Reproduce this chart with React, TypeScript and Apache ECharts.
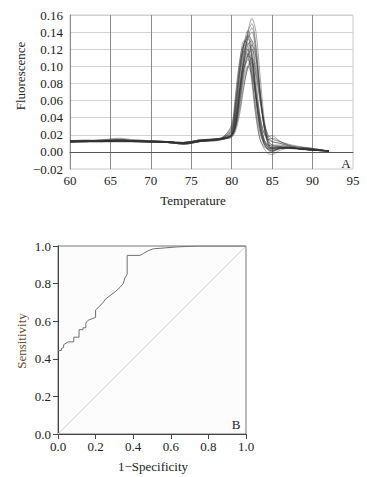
import React, { useEffect, useRef } from "react";
import * as echarts from "echarts";

// ---- Panel A: melt curves ----
const meltTemps = [60, 62, 64, 66, 68, 70, 72, 73, 74, 75, 76, 78, 79, 80, 80.5, 81, 81.5, 82, 82.5, 83, 83.5, 84, 84.5, 85, 86, 87, 88, 90, 92];
const curveA = [0.013,0.013,0.014,0.015,0.013,0.013,0.012,0.011,0.011,0.012,0.014,0.015,0.016,0.019,0.03,0.06,0.10,0.14,0.156,0.14,0.09,0.04,0.012,0.006,0.006,0.005,0.004,0.003,0.001];
const curveB = [0.012,0.012,0.013,0.013,0.013,0.012,0.012,0.011,0.010,0.011,0.013,0.014,0.016,0.022,0.045,0.085,0.125,0.142,0.12,0.07,0.03,0.012,0.008,0.007,0.006,0.005,0.004,0.002,0.001];
const curveC = [0.012,0.012,0.012,0.013,0.012,0.012,0.011,0.010,0.009,0.010,0.012,0.014,0.015,0.02,0.04,0.075,0.105,0.12,0.105,0.065,0.03,0.01,0.002,0.0,0.004,0.005,0.004,0.003,0.001];
const curveD = [0.011,0.012,0.012,0.012,0.012,0.012,0.011,0.010,0.010,0.011,0.013,0.015,0.018,0.03,0.065,0.105,0.13,0.125,0.09,0.045,0.015,0.004,-0.002,-0.003,0.002,0.004,0.003,0.002,0.001];
const curveE = [0.012,0.013,0.013,0.014,0.013,0.012,0.012,0.011,0.011,0.012,0.013,0.014,0.015,0.018,0.03,0.055,0.085,0.10,0.09,0.065,0.04,0.022,0.018,0.019,0.012,0.008,0.006,0.004,0.001];
const curveF = [0.013,0.014,0.013,0.014,0.014,0.013,0.012,0.012,0.011,0.012,0.014,0.015,0.016,0.019,0.032,0.07,0.11,0.135,0.145,0.12,0.07,0.03,0.01,0.004,0.005,0.005,0.004,0.003,0.001];
const curveG = [0.012,0.012,0.012,0.013,0.012,0.012,0.011,0.010,0.010,0.011,0.012,0.014,0.015,0.017,0.025,0.045,0.075,0.10,0.11,0.095,0.06,0.03,0.015,0.012,0.01,0.007,0.005,0.003,0.001];
const curveH = [0.012,0.013,0.013,0.013,0.013,0.012,0.012,0.011,0.010,0.011,0.013,0.014,0.017,0.025,0.055,0.095,0.125,0.135,0.11,0.06,0.025,0.008,0.003,0.002,0.004,0.004,0.004,0.002,0.001];
const curveI = [0.013,0.013,0.014,0.016,0.014,0.013,0.012,0.011,0.010,0.011,0.013,0.015,0.016,0.02,0.035,0.065,0.095,0.115,0.125,0.11,0.07,0.035,0.015,0.008,0.008,0.006,0.005,0.003,0.001];
const curveJ = [0.012,0.012,0.012,0.012,0.012,0.011,0.011,0.010,0.009,0.010,0.012,0.013,0.015,0.021,0.045,0.08,0.105,0.115,0.1,0.065,0.035,0.015,0.008,0.004,0.005,0.005,0.004,0.002,0.001];
const curveK = [0.012,0.012,0.013,0.013,0.013,0.012,0.012,0.011,0.011,0.012,0.013,0.014,0.015,0.018,0.028,0.05,0.078,0.098,0.105,0.09,0.06,0.035,0.02,0.015,0.012,0.009,0.007,0.004,0.001];
const curveL = [0.013,0.013,0.013,0.014,0.013,0.013,0.012,0.011,0.011,0.012,0.014,0.015,0.016,0.02,0.035,0.075,0.115,0.14,0.15,0.125,0.075,0.03,0.008,0.002,0.004,0.005,0.004,0.003,0.001];
const curveM = [0.012,0.012,0.013,0.013,0.012,0.012,0.011,0.011,0.010,0.011,0.013,0.014,0.016,0.023,0.05,0.09,0.118,0.128,0.11,0.07,0.035,0.014,0.006,0.004,0.005,0.005,0.004,0.002,0.001];
const curveN = [0.011,0.012,0.012,0.012,0.012,0.011,0.011,0.010,0.009,0.010,0.012,0.014,0.017,0.028,0.06,0.098,0.118,0.112,0.085,0.05,0.022,0.01,0.006,0.005,0.005,0.005,0.004,0.002,0.001];
const curveO = [0.012,0.013,0.013,0.014,0.013,0.012,0.012,0.011,0.010,0.011,0.013,0.015,0.017,0.024,0.052,0.095,0.126,0.136,0.13,0.085,0.04,0.015,0.005,0.003,0.004,0.005,0.004,0.002,0.001];
const curveP = [0.013,0.013,0.013,0.014,0.013,0.012,0.012,0.011,0.010,0.011,0.013,0.015,0.016,0.019,0.03,0.06,0.09,0.112,0.12,0.1,0.065,0.035,0.018,0.012,0.01,0.007,0.005,0.003,0.001];
const curveQ = [0.012,0.012,0.012,0.013,0.012,0.012,0.011,0.010,0.009,0.010,0.012,0.013,0.015,0.02,0.04,0.072,0.098,0.108,0.095,0.06,0.03,0.012,0.004,0.001,0.004,0.005,0.004,0.002,0.001];
const curveR = [0.012,0.013,0.013,0.013,0.013,0.012,0.012,0.011,0.011,0.012,0.013,0.014,0.016,0.019,0.033,0.068,0.105,0.125,0.13,0.11,0.068,0.03,0.012,0.008,0.007,0.006,0.004,0.003,0.001];
const curveS = [0.011,0.012,0.012,0.012,0.012,0.011,0.011,0.010,0.010,0.011,0.012,0.014,0.018,0.032,0.07,0.108,0.125,0.118,0.08,0.04,0.015,0.006,0.004,0.004,0.005,0.005,0.004,0.002,0.001];
const curveT = [0.013,0.013,0.014,0.014,0.013,0.013,0.012,0.011,0.011,0.012,0.014,0.015,0.016,0.02,0.034,0.072,0.11,0.132,0.14,0.115,0.07,0.03,0.01,0.005,0.006,0.005,0.004,0.003,0.001];
const curveU = [0.012,0.012,0.013,0.013,0.012,0.012,0.011,0.011,0.010,0.011,0.012,0.014,0.015,0.02,0.038,0.07,0.098,0.112,0.108,0.075,0.042,0.022,0.014,0.016,0.012,0.008,0.006,0.004,0.001];
const curveV = [0.012,0.012,0.013,0.013,0.013,0.012,0.012,0.011,0.010,0.011,0.013,0.014,0.017,0.026,0.058,0.1,0.126,0.132,0.112,0.065,0.028,0.01,0.003,0.001,0.004,0.004,0.004,0.002,0.001];
const meltCurves = [curveA, curveB, curveC, curveD, curveE, curveF, curveG, curveH, curveI, curveJ, curveK, curveL, curveM, curveN, curveO, curveP, curveQ, curveR, curveS, curveT, curveU, curveV];

const tempTicks = [60, 65, 70, 75, 80, 85, 90, 95];
const fluoTicks = [-0.02, 0, 0.02, 0.04, 0.06, 0.08, 0.1, 0.12, 0.14, 0.16];

// ---- Panel B: ROC curve ----
const rocFpr = [0, 0.018, 0.018, 0.03, 0.03, 0.053, 0.053, 0.084, 0.084, 0.112, 0.112, 0.133, 0.133, 0.148, 0.148, 0.16, 0.187, 0.2, 0.2, 0.222, 0.24, 0.255, 0.276, 0.308, 0.33, 0.347, 0.356, 0.368, 0.368, 0.436, 0.454, 0.48, 0.507, 0.57, 0.63, 0.74, 1.0];
const rocTpr = [0.444, 0.444, 0.455, 0.46, 0.475, 0.49, 0.49, 0.49, 0.515, 0.515, 0.555, 0.555, 0.565, 0.565, 0.59, 0.605, 0.615, 0.62, 0.66, 0.68, 0.7, 0.72, 0.735, 0.76, 0.78, 0.8, 0.83, 0.85, 0.95, 0.95, 0.96, 0.975, 0.985, 0.99, 0.995, 1.0, 1.0];
const rocTicks = [0, 0.2, 0.4, 0.6, 0.8, 1.0];

const FONT = "'Liberation Serif', 'Times New Roman', serif";

export default function App() {
  const ref = useRef<HTMLDivElement>(null);
  useEffect(() => {
    if (!ref.current) return;
    const chart = echarts.init(ref.current, null, { renderer: "svg" });
    const fmt2 = (v: number) => (v < 0 ? "\u2212" + Math.abs(v).toFixed(2) : v.toFixed(2));
    const meltSeries = meltCurves.map((c, i) => ({
      type: "line",
      xAxisIndex: 0,
      yAxisIndex: 0,
      name: "curve" + i,
      data: c.map((v, j) => [meltTemps[j], v]),
      showSymbol: false,
      smooth: 0.3,
      lineStyle: { color: "#333", width: 0.7, opacity: 0.6 },
      silent: true,
    }));
    const option: any = {
      animation: false,
      backgroundColor: "#ffffff",
      textStyle: { fontFamily: FONT },
      grid: [
        { left: 70, top: 15, width: 283, height: 154, show: true, borderColor: "#c8c8c8", borderWidth: 1, backgroundColor: "transparent", containLabel: false },
        { left: 58, top: 246, width: 188, height: 188, show: true, borderColor: "#777", borderWidth: 1, backgroundColor: "#fcfcfc", containLabel: false },
      ],
      xAxis: [
        {
          type: "value", gridIndex: 0, min: tempTicks[0], max: tempTicks[tempTicks.length - 1], interval: 5,
          axisLine: { show: true, lineStyle: { color: "#555", width: 1 } },
          axisTick: { show: false },
          axisLabel: { fontFamily: FONT, fontSize: 13, color: "#222", margin: 5 },
          splitLine: { show: true, showMinLine: false, showMaxLine: false, lineStyle: { color: "#8a8a8a", width: 1 } },
        },
        {
          type: "value", gridIndex: 1, min: rocTicks[0], max: rocTicks[rocTicks.length - 1], interval: 0.2,
          axisLine: { show: true, lineStyle: { color: "#444", width: 1 } },
          axisTick: { show: true, length: 5, lineStyle: { color: "#444" } },
          axisLabel: { fontFamily: FONT, fontSize: 13, color: "#222", margin: 6, formatter: (v: number) => v.toFixed(1) },
          splitLine: { show: false },
        },
      ],
      yAxis: [
        {
          type: "value", gridIndex: 0, min: fluoTicks[0], max: fluoTicks[fluoTicks.length - 1], interval: 0.02,
          axisLine: { show: true, lineStyle: { color: "#8a8a8a", width: 1 } },
          axisTick: { show: false },
          axisLabel: { fontFamily: FONT, fontSize: 13, color: "#222", margin: 7, formatter: fmt2 },
          splitLine: { show: true, showMinLine: false, lineStyle: { color: "#d2d2d2", width: 1 } },
        },
        {
          type: "value", gridIndex: 1, min: rocTicks[0], max: rocTicks[rocTicks.length - 1], interval: 0.2,
          axisLine: { show: true, lineStyle: { color: "#444", width: 1 } },
          axisTick: { show: true, length: 5, lineStyle: { color: "#444" } },
          axisLabel: { fontFamily: FONT, fontSize: 13, color: "#222", margin: 7, formatter: (v: number) => v.toFixed(1) },
          splitLine: { show: false },
        },
      ],
      series: [
        ...meltSeries,
        {
          type: "line", xAxisIndex: 1, yAxisIndex: 1, name: "diag",
          data: [[0, 0], [1, 1]], showSymbol: false,
          lineStyle: { color: "#d4d4d4", width: 1 }, silent: true,
        },
        {
          type: "line", xAxisIndex: 1, yAxisIndex: 1, name: "ROC",
          data: rocFpr.map((x, i) => [x, rocTpr[i]]), showSymbol: false,
          lineStyle: { color: "#707070", width: 1 }, silent: true,
        },
      ],
      graphic: [
        { type: "text", x: 20, y: 76, rotation: Math.PI / 2, style: { text: "Fluorescence", font: `13px ${FONT}`, fill: "#222", align: "center", verticalAlign: "middle" } },
        { type: "text", x: 193, y: 200, style: { text: "Temperature", font: `13px ${FONT}`, fill: "#222", align: "center", verticalAlign: "middle" } },
        { type: "text", x: 346, y: 163, style: { text: "A", font: `13px ${FONT}`, fill: "#222", align: "center", verticalAlign: "middle" } },
        { type: "text", x: 21, y: 341, rotation: Math.PI / 2, style: { text: "Sensitivity", font: `13px ${FONT}`, fill: "#6e4a30", align: "center", verticalAlign: "middle" } },
        { type: "text", x: 153, y: 466, style: { text: "1\u2212Specificity", font: `13px ${FONT}`, fill: "#222", align: "center", verticalAlign: "middle" } },
        { type: "text", x: 236, y: 424, style: { text: "B", font: `13px ${FONT}`, fill: "#222", align: "center", verticalAlign: "middle" } },
      ],
    };
    chart.setOption(option);
    return () => chart.dispose();
  }, []);
  return <div ref={ref} style={{ position: "fixed", left: 0, top: 0, width: 367, height: 477 }} />;
}
